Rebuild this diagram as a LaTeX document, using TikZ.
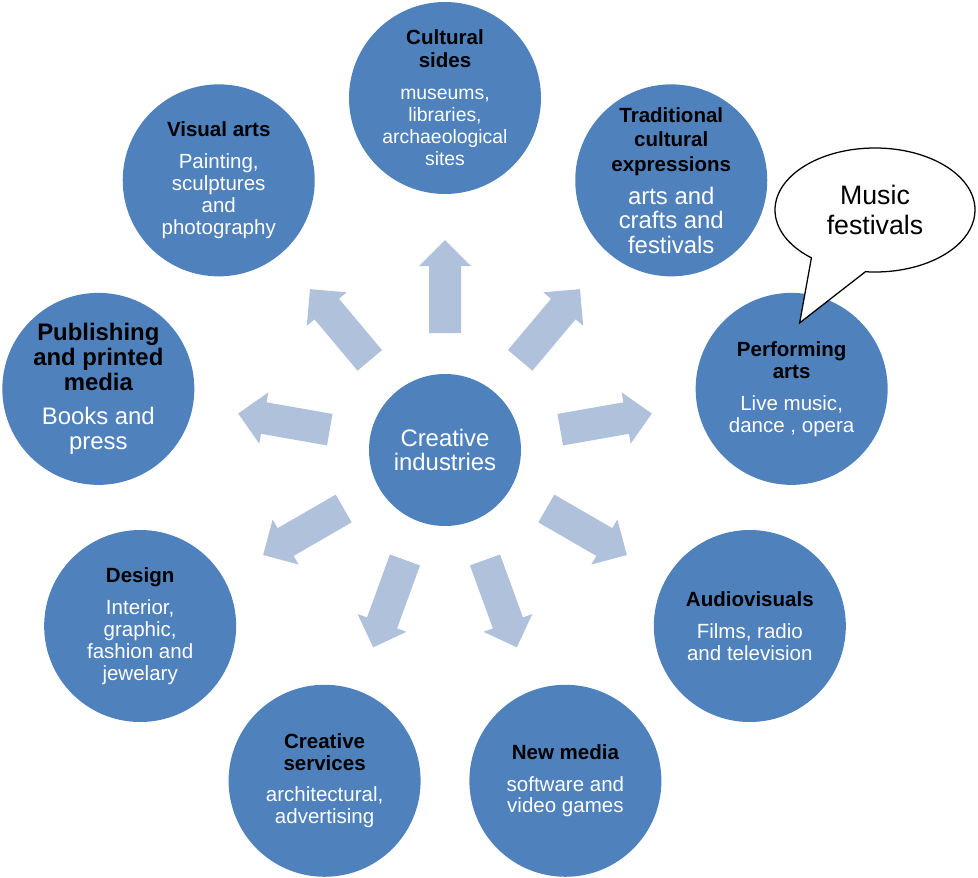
\documentclass[tikz,border=0pt]{standalone}
\usepackage{fontspec}
\setmainfont{Liberation Sans}
\usetikzlibrary{calc,shapes.callouts}
\definecolor{ciblue}{HTML}{4F81BD}
\definecolor{arrowblue}{HTML}{B0C1DC}
\newcommand{\sectitle}[2][14.6]{{\fontsize{#1}{#1}\selectfont\bfseries\color{black}#2}}

\begin{document}
\begin{tikzpicture}[
  hub/.style={circle,fill=ciblue,text=white,minimum size=3.8cm,inner sep=-6pt,
              align=center,font=\fontsize{17}{17.7}\selectfont},
  sector/.style={circle,fill=ciblue,text=white,minimum size=4.8cm,inner sep=-6pt,
              align=center,font=\fontsize{14.6}{15.6}\selectfont},
  bubble/.style={ellipse callout,draw,line width=0.9pt,fill=white,
              minimum width=5cm,minimum height=3.1cm,callout pointer arc=34,
              align=center,font=\fontsize{19}{21}\selectfont},
  spoke/.style={fill=arrowblue}
]
\useasboundingbox (-11.125,-10.675) rectangle (13.325,11.25);
\node[hub] (hub) at (0,0) {Creative\\industries};
% block arrows out of the hub
\foreach \a in {90,50,10,-30,-70,-110,-150,170,130}
  \fill[spoke,shift={(hub.center)},rotate=\a] (2.925,-0.4) -- (4.6,-0.4) -- (4.6,-0.65)
    -- (5.25,0) -- (4.6,0.65) -- (4.6,0.4) -- (2.925,0.4) -- cycle;
\node[sector,font=\fontsize{13.8}{15.8}\selectfont] (cult) at (90:8.8)
  {\sectitle{Cultural}\\\sectitle{sides}\\[7pt]museums,\\libraries,\\archaeological\\sites};
\node[sector,font=\fontsize{17}{17.4}\selectfont] (trad) at (50:8.8)
  {\sectitle{Traditional}\\\sectitle{cultural}\\\sectitle{expressions}\\[6pt]arts and\\crafts and\\festivals};
\node[sector] (perf) at (10:8.8)
  {\sectitle{Performing}\\\sectitle{arts}\\[7pt]Live music,\\dance , opera};
\node[sector] (audio) at (-30:8.8)
  {\sectitle{Audiovisuals}\\[7pt]Films, radio\\and television};
\node[sector] (newmed) at (-70:8.8)
  {\sectitle{New media}\\[7pt]software and\\video games};
\node[sector] (serv) at (-110:8.8)
  {\sectitle{Creative}\\\sectitle{services}\\[7pt]architectural,\\advertising};
\node[sector] (design) at (-150:8.8)
  {\sectitle{Design}\\[7pt]Interior,\\graphic,\\fashion and\\jewelary};
\node[sector,font=\fontsize{17}{17.7}\selectfont] (publ) at (170:8.8)
  {\sectitle[17]{Publishing}\\\sectitle[17]{and printed}\\\sectitle[17]{media}\\[7pt]Books and\\press};
\node[sector] (visual) at (130:8.8)
  {\sectitle{Visual arts}\\[7pt]Painting,\\sculptures\\and\\photography};
% speech bubble
\node[bubble,callout absolute pointer={($(perf.center)+(0.2,1.65)$)}] (fest) at (10.75,6.0)
  {Music\\festivals};
\end{tikzpicture}
\end{document}
